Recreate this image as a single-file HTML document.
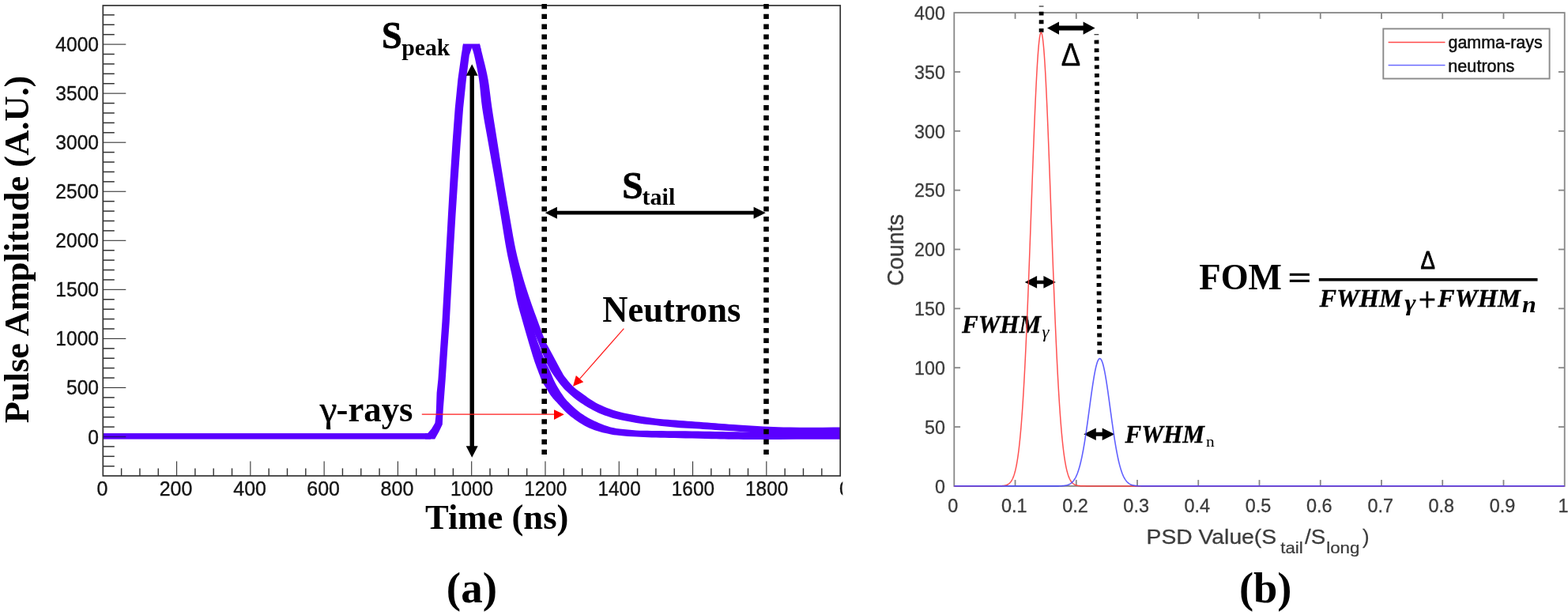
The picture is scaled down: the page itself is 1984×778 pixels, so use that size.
<!DOCTYPE html>
<html lang="en">
<head>
<meta charset="utf-8">
<title>Pulse shape discrimination figure</title>
<style>
html,body{margin:0;padding:0;background:#fff;}
body{width:1984px;height:778px;overflow:hidden;}
svg{display:block;}
</style>
</head>
<body>
<svg width="1984" height="778" viewBox="0 0 1984 778">
<rect x="0" y="0" width="1984" height="778" fill="#ffffff"/>
<g id="plotA">
<line x1="130.30" y1="589.73" x2="144.80" y2="589.73" stroke="#333" stroke-width="1.5"/>
<line x1="130.30" y1="577.32" x2="144.80" y2="577.32" stroke="#333" stroke-width="1.5"/>
<line x1="130.30" y1="564.91" x2="144.80" y2="564.91" stroke="#333" stroke-width="1.5"/>
<line x1="130.30" y1="552.50" x2="159.30" y2="552.50" stroke="#333" stroke-width="1.1"/>
<line x1="130.30" y1="540.09" x2="144.80" y2="540.09" stroke="#333" stroke-width="1.5"/>
<line x1="130.30" y1="527.68" x2="144.80" y2="527.68" stroke="#333" stroke-width="1.5"/>
<line x1="130.30" y1="515.27" x2="144.80" y2="515.27" stroke="#333" stroke-width="1.5"/>
<line x1="130.30" y1="502.86" x2="144.80" y2="502.86" stroke="#333" stroke-width="1.5"/>
<line x1="130.30" y1="490.45" x2="159.30" y2="490.45" stroke="#333" stroke-width="1.1"/>
<line x1="130.30" y1="478.04" x2="144.80" y2="478.04" stroke="#333" stroke-width="1.5"/>
<line x1="130.30" y1="465.63" x2="144.80" y2="465.63" stroke="#333" stroke-width="1.5"/>
<line x1="130.30" y1="453.22" x2="144.80" y2="453.22" stroke="#333" stroke-width="1.5"/>
<line x1="130.30" y1="440.81" x2="144.80" y2="440.81" stroke="#333" stroke-width="1.5"/>
<line x1="130.30" y1="428.40" x2="159.30" y2="428.40" stroke="#333" stroke-width="1.1"/>
<line x1="130.30" y1="415.99" x2="144.80" y2="415.99" stroke="#333" stroke-width="1.5"/>
<line x1="130.30" y1="403.58" x2="144.80" y2="403.58" stroke="#333" stroke-width="1.5"/>
<line x1="130.30" y1="391.17" x2="144.80" y2="391.17" stroke="#333" stroke-width="1.5"/>
<line x1="130.30" y1="378.76" x2="144.80" y2="378.76" stroke="#333" stroke-width="1.5"/>
<line x1="130.30" y1="366.35" x2="159.30" y2="366.35" stroke="#333" stroke-width="1.1"/>
<line x1="130.30" y1="353.94" x2="144.80" y2="353.94" stroke="#333" stroke-width="1.5"/>
<line x1="130.30" y1="341.53" x2="144.80" y2="341.53" stroke="#333" stroke-width="1.5"/>
<line x1="130.30" y1="329.12" x2="144.80" y2="329.12" stroke="#333" stroke-width="1.5"/>
<line x1="130.30" y1="316.71" x2="144.80" y2="316.71" stroke="#333" stroke-width="1.5"/>
<line x1="130.30" y1="304.30" x2="159.30" y2="304.30" stroke="#333" stroke-width="1.1"/>
<line x1="130.30" y1="291.89" x2="144.80" y2="291.89" stroke="#333" stroke-width="1.5"/>
<line x1="130.30" y1="279.48" x2="144.80" y2="279.48" stroke="#333" stroke-width="1.5"/>
<line x1="130.30" y1="267.07" x2="144.80" y2="267.07" stroke="#333" stroke-width="1.5"/>
<line x1="130.30" y1="254.66" x2="144.80" y2="254.66" stroke="#333" stroke-width="1.5"/>
<line x1="130.30" y1="242.25" x2="159.30" y2="242.25" stroke="#333" stroke-width="1.1"/>
<line x1="130.30" y1="229.84" x2="144.80" y2="229.84" stroke="#333" stroke-width="1.5"/>
<line x1="130.30" y1="217.43" x2="144.80" y2="217.43" stroke="#333" stroke-width="1.5"/>
<line x1="130.30" y1="205.02" x2="144.80" y2="205.02" stroke="#333" stroke-width="1.5"/>
<line x1="130.30" y1="192.61" x2="144.80" y2="192.61" stroke="#333" stroke-width="1.5"/>
<line x1="130.30" y1="180.20" x2="159.30" y2="180.20" stroke="#333" stroke-width="1.1"/>
<line x1="130.30" y1="167.79" x2="144.80" y2="167.79" stroke="#333" stroke-width="1.5"/>
<line x1="130.30" y1="155.38" x2="144.80" y2="155.38" stroke="#333" stroke-width="1.5"/>
<line x1="130.30" y1="142.97" x2="144.80" y2="142.97" stroke="#333" stroke-width="1.5"/>
<line x1="130.30" y1="130.56" x2="144.80" y2="130.56" stroke="#333" stroke-width="1.5"/>
<line x1="130.30" y1="118.15" x2="159.30" y2="118.15" stroke="#333" stroke-width="1.1"/>
<line x1="130.30" y1="105.74" x2="144.80" y2="105.74" stroke="#333" stroke-width="1.5"/>
<line x1="130.30" y1="93.33" x2="144.80" y2="93.33" stroke="#333" stroke-width="1.5"/>
<line x1="130.30" y1="80.92" x2="144.80" y2="80.92" stroke="#333" stroke-width="1.5"/>
<line x1="130.30" y1="68.51" x2="144.80" y2="68.51" stroke="#333" stroke-width="1.5"/>
<line x1="130.30" y1="56.10" x2="159.30" y2="56.10" stroke="#333" stroke-width="1.1"/>
<line x1="130.30" y1="43.69" x2="144.80" y2="43.69" stroke="#333" stroke-width="1.5"/>
<line x1="130.30" y1="31.28" x2="144.80" y2="31.28" stroke="#333" stroke-width="1.5"/>
<line x1="130.30" y1="18.87" x2="144.80" y2="18.87" stroke="#333" stroke-width="1.5"/>
<line x1="153.62" y1="602.00" x2="153.62" y2="592.40" stroke="#333" stroke-width="1.4"/>
<line x1="176.94" y1="602.00" x2="176.94" y2="592.40" stroke="#333" stroke-width="1.4"/>
<line x1="200.26" y1="602.00" x2="200.26" y2="592.40" stroke="#333" stroke-width="1.4"/>
<line x1="223.58" y1="602.00" x2="223.58" y2="583.60" stroke="#333" stroke-width="1.1"/>
<line x1="246.90" y1="602.00" x2="246.90" y2="592.40" stroke="#333" stroke-width="1.4"/>
<line x1="270.22" y1="602.00" x2="270.22" y2="592.40" stroke="#333" stroke-width="1.4"/>
<line x1="293.54" y1="602.00" x2="293.54" y2="592.40" stroke="#333" stroke-width="1.4"/>
<line x1="316.86" y1="602.00" x2="316.86" y2="583.60" stroke="#333" stroke-width="1.1"/>
<line x1="340.18" y1="602.00" x2="340.18" y2="592.40" stroke="#333" stroke-width="1.4"/>
<line x1="363.50" y1="602.00" x2="363.50" y2="592.40" stroke="#333" stroke-width="1.4"/>
<line x1="386.82" y1="602.00" x2="386.82" y2="592.40" stroke="#333" stroke-width="1.4"/>
<line x1="410.14" y1="602.00" x2="410.14" y2="583.60" stroke="#333" stroke-width="1.1"/>
<line x1="433.46" y1="602.00" x2="433.46" y2="592.40" stroke="#333" stroke-width="1.4"/>
<line x1="456.78" y1="602.00" x2="456.78" y2="592.40" stroke="#333" stroke-width="1.4"/>
<line x1="480.10" y1="602.00" x2="480.10" y2="592.40" stroke="#333" stroke-width="1.4"/>
<line x1="503.42" y1="602.00" x2="503.42" y2="583.60" stroke="#333" stroke-width="1.1"/>
<line x1="526.74" y1="602.00" x2="526.74" y2="592.40" stroke="#333" stroke-width="1.4"/>
<line x1="550.06" y1="602.00" x2="550.06" y2="592.40" stroke="#333" stroke-width="1.4"/>
<line x1="573.38" y1="602.00" x2="573.38" y2="592.40" stroke="#333" stroke-width="1.4"/>
<line x1="596.70" y1="602.00" x2="596.70" y2="583.60" stroke="#333" stroke-width="1.1"/>
<line x1="620.02" y1="602.00" x2="620.02" y2="592.40" stroke="#333" stroke-width="1.4"/>
<line x1="643.34" y1="602.00" x2="643.34" y2="592.40" stroke="#333" stroke-width="1.4"/>
<line x1="666.66" y1="602.00" x2="666.66" y2="592.40" stroke="#333" stroke-width="1.4"/>
<line x1="689.98" y1="602.00" x2="689.98" y2="583.60" stroke="#333" stroke-width="1.1"/>
<line x1="713.30" y1="602.00" x2="713.30" y2="592.40" stroke="#333" stroke-width="1.4"/>
<line x1="736.62" y1="602.00" x2="736.62" y2="592.40" stroke="#333" stroke-width="1.4"/>
<line x1="759.94" y1="602.00" x2="759.94" y2="592.40" stroke="#333" stroke-width="1.4"/>
<line x1="783.26" y1="602.00" x2="783.26" y2="583.60" stroke="#333" stroke-width="1.1"/>
<line x1="806.58" y1="602.00" x2="806.58" y2="592.40" stroke="#333" stroke-width="1.4"/>
<line x1="829.90" y1="602.00" x2="829.90" y2="592.40" stroke="#333" stroke-width="1.4"/>
<line x1="853.22" y1="602.00" x2="853.22" y2="592.40" stroke="#333" stroke-width="1.4"/>
<line x1="876.54" y1="602.00" x2="876.54" y2="583.60" stroke="#333" stroke-width="1.1"/>
<line x1="899.86" y1="602.00" x2="899.86" y2="592.40" stroke="#333" stroke-width="1.4"/>
<line x1="923.18" y1="602.00" x2="923.18" y2="592.40" stroke="#333" stroke-width="1.4"/>
<line x1="946.50" y1="602.00" x2="946.50" y2="592.40" stroke="#333" stroke-width="1.4"/>
<line x1="969.82" y1="602.00" x2="969.82" y2="583.60" stroke="#333" stroke-width="1.1"/>
<line x1="993.14" y1="602.00" x2="993.14" y2="592.40" stroke="#333" stroke-width="1.4"/>
<line x1="1016.46" y1="602.00" x2="1016.46" y2="592.40" stroke="#333" stroke-width="1.4"/>
<line x1="1039.78" y1="602.00" x2="1039.78" y2="592.40" stroke="#333" stroke-width="1.4"/>
<rect x="130.30" y="548.1" width="414.70" height="7.5" fill="#5a00ff"/>
<polygon points="538.00,548.10 541.30,548.10 546.00,542.50 550.40,535.00 551.40,526.00 551.90,517.50 552.60,497.00 554.40,480.00 556.90,443.00 559.40,407.00 561.90,362.00 564.40,317.00 566.90,272.00 569.50,227.00 572.40,182.00 575.70,137.00 579.40,100.00 583.60,70.00 586.00,55.60 597.00,60.60 593.80,70.00 590.00,100.00 586.10,137.00 582.70,182.00 579.50,227.00 576.50,272.00 573.80,317.00 571.30,362.00 568.80,407.00 566.20,443.00 563.70,480.00 562.40,497.00 560.80,517.50 560.30,526.00 559.80,537.00 555.50,546.00 550.20,555.60 538.00,555.60" fill="#5a00ff"/>
<polygon points="586.0,55.6 606.9,55.6 609,64 597,60.6 585,64" fill="#5a00ff"/>
<polygon points="597.00,60.60 597.36,61.55 597.84,62.69 598.44,64.31 599.16,66.65 600.00,70.00 601.04,74.57 602.27,80.18 603.59,86.51 604.87,93.22 606.00,100.00 606.90,106.82 607.64,113.91 608.35,121.29 609.16,128.98 610.20,137.00 611.53,145.49 613.05,154.42 614.69,163.62 616.37,172.87 618.00,182.00 619.60,191.00 621.21,200.00 622.83,209.00 624.43,218.00 626.00,227.00 627.53,236.00 629.04,245.00 630.52,254.00 632.01,263.00 633.50,272.00 635.00,281.16 636.50,290.48 638.00,299.72 639.50,308.64 641.00,317.00 642.53,324.75 644.10,332.06 645.64,338.98 647.13,345.61 648.50,352.00 649.71,358.10 650.78,363.85 651.80,369.35 652.85,374.70 654.00,380.00 655.27,385.19 656.61,390.22 657.99,395.14 659.39,400.05 660.80,405.00 662.21,410.00 663.63,415.00 665.07,420.00 666.53,425.00 668.00,430.00 669.53,435.16 671.12,440.48 672.70,445.72 674.21,450.64 675.60,455.00 676.83,458.68 677.94,461.84 678.97,464.66 679.98,467.32 681.00,470.00 682.02,472.72 683.02,475.36 684.00,477.89 684.99,480.28 686.00,482.50 687.01,484.48 688.01,486.23 689.02,487.87 690.08,489.52 691.20,491.30 692.40,493.26 693.66,495.33 694.97,497.42 696.29,499.44 697.60,501.30 698.80,502.86 699.92,504.18 701.09,505.47 702.47,506.94 704.20,508.80 706.39,511.20 708.95,514.01 711.71,516.99 714.51,519.90 717.20,522.50 719.78,524.78 722.35,526.89 724.91,528.86 727.46,530.72 730.00,532.50 732.52,534.20 735.02,535.80 737.51,537.30 740.00,538.70 742.50,540.00 745.00,541.19 747.50,542.26 750.00,543.24 752.50,544.15 755.00,545.00 757.50,545.78 760.00,546.49 762.50,547.13 765.00,547.73 767.50,548.30 769.80,548.83 771.90,549.31 774.10,549.75 776.70,550.18 780.00,550.60 784.20,551.04 789.10,551.47 794.40,551.89 799.80,552.27 805.00,552.60 809.92,552.87 814.76,553.09 819.64,553.28 824.68,553.44 830.00,553.60 835.52,553.74 841.16,553.85 847.04,553.95 853.28,554.06 860.00,554.20 867.55,554.38 875.86,554.59 884.38,554.81 892.61,555.02 900.00,555.20 906.16,555.35 911.44,555.49 916.44,555.62 921.76,555.72 928.00,555.80 934.52,555.86 940.91,555.89 948.15,555.91 957.19,555.91 969.00,555.90 985.94,555.88 1007.37,555.83 1029.75,555.78 1049.54,555.73 1063.20,555.70 1063.20,546.40 1049.03,546.44 1028.48,546.49 1005.28,546.55 983.21,546.59 966.00,546.60 954.37,546.57 945.82,546.52 939.28,546.45 933.69,546.37 928.00,546.30 922.67,546.23 918.42,546.16 914.52,546.08 910.29,545.99 905.00,545.90 898.43,545.79 891.04,545.66 883.20,545.53 875.23,545.40 867.50,545.30 859.80,545.23 851.90,545.17 844.10,545.13 836.70,545.07 830.00,545.00 824.20,544.93 819.10,544.87 814.40,544.79 809.80,544.65 805.00,544.40 799.80,544.03 794.40,543.57 789.10,543.03 784.20,542.47 780.00,541.90 776.70,541.35 774.10,540.79 771.90,540.21 769.80,539.55 767.50,538.80 765.00,537.94 762.50,537.00 760.00,535.98 757.50,534.91 755.00,533.80 752.50,532.66 750.00,531.49 747.50,530.26 745.00,528.93 742.50,527.50 740.00,525.96 737.50,524.35 735.00,522.63 732.50,520.78 730.00,518.80 727.40,516.56 724.70,514.09 722.05,511.54 719.60,509.09 717.50,506.90 715.86,505.07 714.57,503.48 713.48,501.99 712.45,500.48 711.30,498.80 710.02,496.90 708.71,494.88 707.40,492.80 706.15,490.75 705.00,488.80 703.96,486.98 703.02,485.25 702.13,483.55 701.27,481.82 700.40,480.00 699.55,478.08 698.72,476.09 697.91,474.06 697.08,472.02 696.20,470.00 695.26,468.00 694.26,466.00 693.25,464.00 692.25,462.00 691.30,460.00 690.39,458.00 689.51,456.00 688.66,454.00 687.82,452.00 687.00,450.00 686.21,448.00 685.44,446.00 684.69,444.00 683.95,442.00 683.20,440.00 682.52,438.24 681.91,436.72 681.28,435.08 680.51,432.96 679.50,430.00 678.19,425.96 676.64,421.08 674.96,415.72 673.25,410.24 671.60,405.00 670.01,400.05 668.41,395.14 666.81,390.22 665.24,385.19 663.70,380.00 662.23,374.70 660.81,369.35 659.40,363.85 657.96,358.10 656.45,352.00 654.84,345.61 653.17,338.98 651.46,332.06 649.76,324.75 648.10,317.00 646.49,308.64 644.91,299.72 643.35,290.48 641.80,281.16 640.25,272.00 638.71,263.00 637.19,254.00 635.68,245.00 634.17,236.00 632.65,227.00 631.13,218.00 629.60,209.00 628.08,200.00 626.56,191.00 625.05,182.00 623.51,172.87 621.92,163.62 620.37,154.42 618.91,145.49 617.60,137.00 616.52,128.98 615.62,121.29 614.81,113.91 613.95,106.82 612.95,100.00 611.73,93.26 610.35,86.63 608.94,80.36 607.62,74.73 606.50,70.00 605.58,66.27 604.78,63.37 604.10,61.13 603.56,59.43 603.15,58.10" fill="#5a00ff"/>
<polygon points="600.75,58.10 601.16,59.43 601.70,61.13 602.38,63.37 603.18,66.27 604.10,70.00 605.22,74.73 606.54,80.36 607.95,86.63 609.33,93.26 610.55,100.00 611.55,106.82 612.41,113.91 613.22,121.29 614.12,128.98 615.20,137.00 616.51,145.49 617.97,154.42 619.52,163.62 621.11,172.87 622.65,182.00 624.16,191.00 625.68,200.00 627.20,209.00 628.73,218.00 630.25,227.00 631.77,236.00 633.28,245.00 634.79,254.00 636.31,263.00 637.85,272.00 639.40,281.16 640.95,290.48 642.51,299.72 644.09,308.64 645.70,317.00 647.36,324.75 649.06,332.06 650.77,338.98 652.44,345.61 654.05,352.00 655.56,358.10 657.00,363.85 658.41,369.35 659.83,374.70 661.30,380.00 662.79,385.19 664.28,390.22 665.81,395.14 667.43,400.05 669.20,405.00 671.27,410.24 673.60,415.72 675.98,421.08 678.15,425.96 679.90,430.00 681.12,432.96 681.95,435.08 682.57,436.72 683.14,438.24 683.80,440.00 684.56,442.00 685.30,444.00 686.04,446.00 686.80,448.00 687.60,450.00 688.43,452.00 689.27,454.00 690.15,456.00 691.05,458.00 692.00,460.00 692.98,462.00 693.98,464.00 695.02,466.00 696.12,468.00 697.30,470.00 698.58,472.02 699.95,474.06 701.37,476.09 702.80,478.08 704.20,480.00 705.57,481.87 706.94,483.70 708.31,485.48 709.66,487.19 711.00,488.80 712.22,490.23 713.33,491.48 714.48,492.70 715.82,494.02 717.50,495.60 719.62,497.53 722.07,499.72 724.71,502.02 727.40,504.26 730.00,506.30 732.50,508.11 735.00,509.78 737.50,511.37 740.00,512.90 742.50,514.40 745.00,515.89 747.50,517.34 750.00,518.73 752.50,520.06 755.00,521.30 757.50,522.44 760.00,523.50 762.50,524.48 765.00,525.41 767.50,526.30 769.80,527.10 771.90,527.81 774.10,528.49 776.70,529.20 780.00,530.00 784.20,530.95 789.10,532.00 794.40,533.07 799.80,534.10 805.00,535.00 810.00,535.75 815.00,536.40 820.00,536.98 825.00,537.54 830.00,538.10 835.00,538.68 840.00,539.27 845.00,539.83 850.00,540.34 855.00,540.80 860.00,541.18 865.00,541.48 870.00,541.75 875.00,542.01 880.00,542.30 885.03,542.62 890.10,542.94 895.14,543.27 900.13,543.59 905.00,543.90 909.49,544.18 913.62,544.43 917.82,544.68 922.47,544.97 928.00,545.30 933.69,545.72 939.28,546.22 945.82,546.73 954.37,547.21 966.00,547.60 983.21,547.90 1005.28,548.14 1028.48,548.33 1049.03,548.48 1063.20,548.60 1063.20,540.60 1054.14,540.62 1041.07,540.66 1026.21,540.69 1011.78,540.68 1000.00,540.60 991.40,540.45 984.49,540.26 978.49,540.02 972.59,539.73 966.00,539.40 958.42,539.00 950.37,538.54 942.31,538.04 934.70,537.55 928.00,537.10 922.47,536.71 917.82,536.35 913.62,536.00 909.49,535.66 905.00,535.30 900.13,534.92 895.14,534.54 890.10,534.16 885.03,533.78 880.00,533.40 875.00,533.04 870.00,532.69 865.00,532.34 860.00,531.98 855.00,531.60 850.00,531.21 845.00,530.83 840.00,530.41 835.00,529.95 830.00,529.40 825.00,528.77 820.00,528.08 815.00,527.33 810.00,526.50 805.00,525.60 799.90,524.62 794.70,523.55 789.55,522.42 784.60,521.23 780.00,520.00 775.76,518.70 771.77,517.33 768.03,515.92 764.54,514.49 761.30,513.10 758.40,511.77 755.85,510.47 753.50,509.16 751.20,507.79 748.80,506.30 746.28,504.67 743.74,502.92 741.21,501.11 738.72,499.29 736.30,497.50 733.94,495.80 731.63,494.16 729.37,492.50 727.16,490.74 725.00,488.80 722.83,486.56 720.64,484.07 718.53,481.52 716.62,479.10 715.00,477.00 713.82,475.42 713.01,474.24 712.36,473.15 711.63,471.84 710.60,470.00 709.20,467.48 707.57,464.48 705.84,461.24 704.11,458.00 702.50,455.00 701.02,452.26 699.58,449.61 698.18,447.03 696.82,444.50 695.50,442.00 694.28,439.74 693.15,437.75 692.03,435.69 690.82,433.22 689.40,430.00 687.72,425.83 685.86,420.94 683.89,415.62 681.91,410.21 680.00,405.00 678.17,400.05 676.37,395.14 674.58,390.22 672.79,385.19 671.00,380.00 669.20,374.70 667.41,369.35 665.61,363.85 663.81,358.10 662.00,352.00 660.16,345.61 658.29,338.98 656.42,332.06 654.58,324.75 652.80,317.00 651.09,308.64 649.42,299.72 647.80,290.48 646.19,281.16 644.60,272.00 643.02,263.00 641.46,254.00 639.92,245.00 638.40,236.00 636.90,227.00 635.43,218.00 633.98,209.00 632.55,200.00 631.13,191.00 629.70,182.00 628.24,172.87 626.76,163.62 625.29,154.42 623.89,145.49 622.60,137.00 621.48,128.98 620.50,121.29 619.57,113.91 618.60,106.82 617.50,100.00 616.18,93.30 614.72,86.75 613.22,80.54 611.80,74.89 610.60,70.00 609.60,65.89 608.71,62.43 607.96,59.57 607.35,57.31 606.90,55.60" fill="#5a00ff"/>
<rect x="130.30" y="6.95" width="932.90" height="595.05" fill="none" stroke="#333333" stroke-width="1.7"/>
<line x1="130.30" y1="552.50" x2="159.30" y2="552.50" stroke="#2a0a80" stroke-width="1.4"/>
<line x1="688.70" y1="5.0" x2="688.70" y2="576" stroke="#000" stroke-width="6.6" stroke-dasharray="6.3 6.51"/>
<line x1="969.50" y1="5.0" x2="969.50" y2="576" stroke="#000" stroke-width="6.6" stroke-dasharray="6.3 6.51"/>
<path d="M597.20,81.20 L604.70,95.70 L599.90,95.70 L599.90,564.30 L604.70,564.30 L597.20,578.80 L589.70,564.30 L594.50,564.30 L594.50,95.70 L589.70,95.70 Z" fill="#000"/>
<path d="M689.70,269.20 L704.90,261.70 L704.90,266.80 L953.60,266.80 L953.60,261.70 L968.80,269.20 L953.60,276.70 L953.60,271.60 L704.90,271.60 L704.90,276.70 Z" fill="#000"/>
<line x1="533.8" y1="524.1" x2="703" y2="524.1" stroke="#ff1a1a" stroke-width="1.2"/>
<polygon points="713.8,524.3 701,518.2 701,531" fill="#ff0000"/>
<line x1="789.40" y1="415.60" x2="733.59" y2="479.04" stroke="#ff1a1a" stroke-width="1.2"/>
<polygon points="725.00,488.80 728.86,474.88 738.32,483.20" fill="#ff0000"/>
<text transform="translate(111.37,561.50) scale(1.0000,1.0600)" font-family="'Liberation Sans', Arial, Helvetica, sans-serif" font-size="24.60" stroke="#141414" stroke-width="0.35" fill="#141414">0</text>
<text transform="translate(84.00,499.45) scale(1.0000,1.0600)" font-family="'Liberation Sans', Arial, Helvetica, sans-serif" font-size="24.60" stroke="#141414" stroke-width="0.35" fill="#141414">500</text>
<text transform="translate(70.35,437.40) scale(1.0000,1.0600)" font-family="'Liberation Sans', Arial, Helvetica, sans-serif" font-size="24.60" stroke="#141414" stroke-width="0.35" fill="#141414">1000</text>
<text transform="translate(70.35,375.35) scale(1.0000,1.0600)" font-family="'Liberation Sans', Arial, Helvetica, sans-serif" font-size="24.60" stroke="#141414" stroke-width="0.35" fill="#141414">1500</text>
<text transform="translate(70.35,313.30) scale(1.0000,1.0600)" font-family="'Liberation Sans', Arial, Helvetica, sans-serif" font-size="24.60" stroke="#141414" stroke-width="0.35" fill="#141414">2000</text>
<text transform="translate(70.35,251.25) scale(1.0000,1.0600)" font-family="'Liberation Sans', Arial, Helvetica, sans-serif" font-size="24.60" stroke="#141414" stroke-width="0.35" fill="#141414">2500</text>
<text transform="translate(70.35,189.20) scale(1.0000,1.0600)" font-family="'Liberation Sans', Arial, Helvetica, sans-serif" font-size="24.60" stroke="#141414" stroke-width="0.35" fill="#141414">3000</text>
<text transform="translate(70.35,127.15) scale(1.0000,1.0600)" font-family="'Liberation Sans', Arial, Helvetica, sans-serif" font-size="24.60" stroke="#141414" stroke-width="0.35" fill="#141414">3500</text>
<text transform="translate(70.35,65.10) scale(1.0000,1.0600)" font-family="'Liberation Sans', Arial, Helvetica, sans-serif" font-size="24.60" stroke="#141414" stroke-width="0.35" fill="#141414">4000</text>
<text transform="translate(122.43,626.50) scale(1.0000,1.0600)" font-family="'Liberation Sans', Arial, Helvetica, sans-serif" font-size="25.00" stroke="#141414" stroke-width="0.35" fill="#141414">0</text>
<text transform="translate(201.68,626.50) scale(1.0000,1.0600)" font-family="'Liberation Sans', Arial, Helvetica, sans-serif" font-size="25.00" stroke="#141414" stroke-width="0.35" fill="#141414">200</text>
<text transform="translate(295.30,626.50) scale(1.0000,1.0600)" font-family="'Liberation Sans', Arial, Helvetica, sans-serif" font-size="25.00" stroke="#141414" stroke-width="0.35" fill="#141414">400</text>
<text transform="translate(388.24,626.50) scale(1.0000,1.0600)" font-family="'Liberation Sans', Arial, Helvetica, sans-serif" font-size="25.00" stroke="#141414" stroke-width="0.35" fill="#141414">600</text>
<text transform="translate(481.61,626.50) scale(1.0000,1.0600)" font-family="'Liberation Sans', Arial, Helvetica, sans-serif" font-size="25.00" stroke="#141414" stroke-width="0.35" fill="#141414">800</text>
<text transform="translate(569.96,626.50) scale(0.9750,1.0600)" font-family="'Liberation Sans', Arial, Helvetica, sans-serif" font-size="25.00" stroke="#141414" stroke-width="0.35" fill="#141414">1000</text>
<text transform="translate(663.24,626.50) scale(0.9750,1.0600)" font-family="'Liberation Sans', Arial, Helvetica, sans-serif" font-size="25.00" stroke="#141414" stroke-width="0.35" fill="#141414">1200</text>
<text transform="translate(756.52,626.50) scale(0.9750,1.0600)" font-family="'Liberation Sans', Arial, Helvetica, sans-serif" font-size="25.00" stroke="#141414" stroke-width="0.35" fill="#141414">1400</text>
<text transform="translate(849.80,626.50) scale(0.9750,1.0600)" font-family="'Liberation Sans', Arial, Helvetica, sans-serif" font-size="25.00" stroke="#141414" stroke-width="0.35" fill="#141414">1600</text>
<text transform="translate(943.08,626.50) scale(0.9750,1.0600)" font-family="'Liberation Sans', Arial, Helvetica, sans-serif" font-size="25.00" stroke="#141414" stroke-width="0.35" fill="#141414">1800</text>
<clipPath id="cpFrag"><rect x="1060" y="600" width="6.3" height="40"/></clipPath>
<g clip-path="url(#cpFrag)"><text transform="translate(1062.00,626.50) scale(1.0000,1.0600)" font-family="'Liberation Sans', Arial, Helvetica, sans-serif" font-size="25.00" stroke="#141414" stroke-width="0.35" fill="#141414">0</text></g>
<text transform="translate(35.60,535.18) rotate(-90) scale(0.9881,1.0000)" font-family="'Liberation Serif', 'Times New Roman', Times, serif" font-size="45.00" font-weight="bold" fill="#000">Pulse Amplitude (A.U.)</text>
<text transform="translate(537.93,668.80) scale(1.0077,1.0000)" font-family="'Liberation Serif', 'Times New Roman', Times, serif" font-size="44.30" font-weight="bold" fill="#000">Time (ns)</text>
<text transform="translate(564.86,761.70) scale(1.0090,1.0000)" font-family="'Liberation Serif', 'Times New Roman', Times, serif" font-size="54.60" font-weight="bold" fill="#000">(a)</text>
<text transform="translate(482.88,61.40) scale(0.9399,1.0000)" font-family="'Liberation Serif', 'Times New Roman', Times, serif" font-size="49.00" font-weight="bold" stroke="#000" stroke-width="0.8" fill="#000">S</text>
<text transform="translate(508.13,70.00) scale(1.0107,1.0000)" font-family="'Liberation Serif', 'Times New Roman', Times, serif" font-size="29.50" font-weight="bold" fill="#000">peak</text>
<text transform="translate(787.21,250.80) scale(0.9664,1.0000)" font-family="'Liberation Serif', 'Times New Roman', Times, serif" font-size="49.00" font-weight="bold" stroke="#000" stroke-width="0.8" fill="#000">S</text>
<text transform="translate(812.55,258.75) scale(1.0370,1.0000)" font-family="'Liberation Serif', 'Times New Roman', Times, serif" font-size="29.00" font-weight="bold" fill="#000">tail</text>
<text transform="translate(762.21,406.80) scale(0.9695,1.0000)" font-family="'Liberation Serif', 'Times New Roman', Times, serif" font-size="46.00" font-weight="bold" fill="#000">Neutrons</text>
<text transform="translate(404.72,532.80) scale(1.0651,1.0000)" font-family="'Liberation Serif', 'Times New Roman', Times, serif" font-size="46.00" stroke="#000" stroke-width="0.5" fill="#000">γ</text>
<text transform="translate(425.62,532.80) scale(0.9728,1.0000)" font-family="'Liberation Serif', 'Times New Roman', Times, serif" font-size="46.00" font-weight="bold" fill="#000">-rays</text>
</g>
<g id="plotB">
<rect x="1207.30" y="16.10" width="772.40" height="598.80" fill="none" stroke="#868686" stroke-width="1.8"/>
<line x1="1284.54" y1="614.90" x2="1284.54" y2="607.10" stroke="#868686" stroke-width="1.8"/>
<line x1="1284.54" y1="16.10" x2="1284.54" y2="23.90" stroke="#868686" stroke-width="1.8"/>
<line x1="1361.78" y1="614.90" x2="1361.78" y2="607.10" stroke="#868686" stroke-width="1.8"/>
<line x1="1361.78" y1="16.10" x2="1361.78" y2="23.90" stroke="#868686" stroke-width="1.8"/>
<line x1="1439.02" y1="614.90" x2="1439.02" y2="607.10" stroke="#868686" stroke-width="1.8"/>
<line x1="1439.02" y1="16.10" x2="1439.02" y2="23.90" stroke="#868686" stroke-width="1.8"/>
<line x1="1516.26" y1="614.90" x2="1516.26" y2="607.10" stroke="#868686" stroke-width="1.8"/>
<line x1="1516.26" y1="16.10" x2="1516.26" y2="23.90" stroke="#868686" stroke-width="1.8"/>
<line x1="1593.50" y1="614.90" x2="1593.50" y2="607.10" stroke="#868686" stroke-width="1.8"/>
<line x1="1593.50" y1="16.10" x2="1593.50" y2="23.90" stroke="#868686" stroke-width="1.8"/>
<line x1="1670.74" y1="614.90" x2="1670.74" y2="607.10" stroke="#868686" stroke-width="1.8"/>
<line x1="1670.74" y1="16.10" x2="1670.74" y2="23.90" stroke="#868686" stroke-width="1.8"/>
<line x1="1747.98" y1="614.90" x2="1747.98" y2="607.10" stroke="#868686" stroke-width="1.8"/>
<line x1="1747.98" y1="16.10" x2="1747.98" y2="23.90" stroke="#868686" stroke-width="1.8"/>
<line x1="1825.22" y1="614.90" x2="1825.22" y2="607.10" stroke="#868686" stroke-width="1.8"/>
<line x1="1825.22" y1="16.10" x2="1825.22" y2="23.90" stroke="#868686" stroke-width="1.8"/>
<line x1="1902.46" y1="614.90" x2="1902.46" y2="607.10" stroke="#868686" stroke-width="1.8"/>
<line x1="1902.46" y1="16.10" x2="1902.46" y2="23.90" stroke="#868686" stroke-width="1.8"/>
<line x1="1207.30" y1="540.05" x2="1215.10" y2="540.05" stroke="#868686" stroke-width="1.8"/>
<line x1="1979.70" y1="540.05" x2="1971.90" y2="540.05" stroke="#868686" stroke-width="1.8"/>
<line x1="1207.30" y1="465.20" x2="1215.10" y2="465.20" stroke="#868686" stroke-width="1.8"/>
<line x1="1979.70" y1="465.20" x2="1971.90" y2="465.20" stroke="#868686" stroke-width="1.8"/>
<line x1="1207.30" y1="390.35" x2="1215.10" y2="390.35" stroke="#868686" stroke-width="1.8"/>
<line x1="1979.70" y1="390.35" x2="1971.90" y2="390.35" stroke="#868686" stroke-width="1.8"/>
<line x1="1207.30" y1="315.50" x2="1215.10" y2="315.50" stroke="#868686" stroke-width="1.8"/>
<line x1="1979.70" y1="315.50" x2="1971.90" y2="315.50" stroke="#868686" stroke-width="1.8"/>
<line x1="1207.30" y1="240.65" x2="1215.10" y2="240.65" stroke="#868686" stroke-width="1.8"/>
<line x1="1979.70" y1="240.65" x2="1971.90" y2="240.65" stroke="#868686" stroke-width="1.8"/>
<line x1="1207.30" y1="165.80" x2="1215.10" y2="165.80" stroke="#868686" stroke-width="1.8"/>
<line x1="1979.70" y1="165.80" x2="1971.90" y2="165.80" stroke="#868686" stroke-width="1.8"/>
<line x1="1207.30" y1="90.95" x2="1215.10" y2="90.95" stroke="#868686" stroke-width="1.8"/>
<line x1="1979.70" y1="90.95" x2="1971.90" y2="90.95" stroke="#868686" stroke-width="1.8"/>
<line x1="1317.6" y1="7.6" x2="1317.6" y2="41" stroke="#000" stroke-width="5.8" stroke-dasharray="0.9 6.2 4.9 5.7 4.9 5.7 4.9 5.7"/>
<line x1="1387.4" y1="43.3" x2="1391.4" y2="452" stroke="#000" stroke-width="5.8" stroke-dasharray="0.9 6.4 4.9 5.7 4.9 5.7 4.9 5.7 4.9 5.7 4.9 5.7 4.9 5.7 4.9 5.7 4.9 5.7 4.9 5.7 4.9 5.7 4.9 5.7 4.9 5.7 4.9 5.7 4.9 5.7 4.9 5.7 4.9 5.7 4.9 5.7 4.9 5.7 4.9 5.7 4.9 5.7 4.9 5.7 4.9 5.7 4.9 5.7 4.9 5.7 4.9 5.7 4.9 5.7 4.9 5.7 4.9 5.7 4.9 5.7 4.9 5.7 4.9 5.7 4.9 5.7 4.9 5.7 4.9 5.7 4.9 5.7 4.9 5.7 4.9 5.7 4.9 5.7 4.9 5.7"/>
<path d="M1325.00,35.60 L1340.00,27.50 L1340.00,32.60 L1370.60,32.60 L1370.60,27.50 L1385.60,35.60 L1370.60,43.70 L1370.60,38.60 L1340.00,38.60 L1340.00,43.70 Z" fill="#000"/>
<path d="M1296.70,356.90 L1312.10,349.10 L1312.10,354.65 L1320.40,354.65 L1320.40,349.10 L1335.80,356.90 L1320.40,364.70 L1320.40,359.15 L1312.10,359.15 L1312.10,364.70 Z" fill="#000"/>
<path d="M1371.20,549.20 L1386.80,541.50 L1386.80,546.75 L1394.70,546.75 L1394.70,541.50 L1410.30,549.20 L1394.70,556.90 L1394.70,551.65 L1386.80,551.65 L1386.80,556.90 Z" fill="#000"/>
<rect x="1750.3" y="36.4" width="210.3" height="63.1" fill="#fff" stroke="#8a8a8a" stroke-width="1.9"/>
<line x1="1756.6" y1="53.5" x2="1828.5" y2="53.5" stroke="#ff4a4a" stroke-width="1.6"/>
<line x1="1756.6" y1="82.5" x2="1828.5" y2="82.5" stroke="#6a6aff" stroke-width="1.6"/>
<text transform="translate(1182.93,623.70) scale(0.9720,1.0000)" font-family="'Liberation Sans', Arial, Helvetica, sans-serif" font-size="24.00" stroke="#3c3c3c" stroke-width="0.3" fill="#3c3c3c">0</text>
<text transform="translate(1169.98,548.85) scale(0.9720,1.0000)" font-family="'Liberation Sans', Arial, Helvetica, sans-serif" font-size="24.00" stroke="#3c3c3c" stroke-width="0.3" fill="#3c3c3c">50</text>
<text transform="translate(1156.98,474.00) scale(0.9720,1.0000)" font-family="'Liberation Sans', Arial, Helvetica, sans-serif" font-size="24.00" stroke="#3c3c3c" stroke-width="0.3" fill="#3c3c3c">100</text>
<text transform="translate(1156.98,399.15) scale(0.9720,1.0000)" font-family="'Liberation Sans', Arial, Helvetica, sans-serif" font-size="24.00" stroke="#3c3c3c" stroke-width="0.3" fill="#3c3c3c">150</text>
<text transform="translate(1156.98,324.30) scale(0.9720,1.0000)" font-family="'Liberation Sans', Arial, Helvetica, sans-serif" font-size="24.00" stroke="#3c3c3c" stroke-width="0.3" fill="#3c3c3c">200</text>
<text transform="translate(1156.98,249.45) scale(0.9720,1.0000)" font-family="'Liberation Sans', Arial, Helvetica, sans-serif" font-size="24.00" stroke="#3c3c3c" stroke-width="0.3" fill="#3c3c3c">250</text>
<text transform="translate(1156.98,174.60) scale(0.9720,1.0000)" font-family="'Liberation Sans', Arial, Helvetica, sans-serif" font-size="24.00" stroke="#3c3c3c" stroke-width="0.3" fill="#3c3c3c">300</text>
<text transform="translate(1156.98,99.75) scale(0.9720,1.0000)" font-family="'Liberation Sans', Arial, Helvetica, sans-serif" font-size="24.00" stroke="#3c3c3c" stroke-width="0.3" fill="#3c3c3c">350</text>
<text transform="translate(1156.98,24.90) scale(0.9720,1.0000)" font-family="'Liberation Sans', Arial, Helvetica, sans-serif" font-size="24.00" stroke="#3c3c3c" stroke-width="0.3" fill="#3c3c3c">400</text>
<text transform="translate(1199.37,648.00) scale(0.9850,1.0000)" font-family="'Liberation Sans', Arial, Helvetica, sans-serif" font-size="23.80" stroke="#3c3c3c" stroke-width="0.3" fill="#3c3c3c">0</text>
<text transform="translate(1266.94,648.00) scale(0.9850,1.0000)" font-family="'Liberation Sans', Arial, Helvetica, sans-serif" font-size="23.80" stroke="#3c3c3c" stroke-width="0.3" fill="#3c3c3c">0.1</text>
<text transform="translate(1344.20,648.00) scale(0.9850,1.0000)" font-family="'Liberation Sans', Arial, Helvetica, sans-serif" font-size="23.80" stroke="#3c3c3c" stroke-width="0.3" fill="#3c3c3c">0.2</text>
<text transform="translate(1421.36,648.00) scale(0.9850,1.0000)" font-family="'Liberation Sans', Arial, Helvetica, sans-serif" font-size="23.80" stroke="#3c3c3c" stroke-width="0.3" fill="#3c3c3c">0.3</text>
<text transform="translate(1498.42,648.00) scale(0.9850,1.0000)" font-family="'Liberation Sans', Arial, Helvetica, sans-serif" font-size="23.80" stroke="#3c3c3c" stroke-width="0.3" fill="#3c3c3c">0.4</text>
<text transform="translate(1575.81,648.00) scale(0.9850,1.0000)" font-family="'Liberation Sans', Arial, Helvetica, sans-serif" font-size="23.80" stroke="#3c3c3c" stroke-width="0.3" fill="#3c3c3c">0.5</text>
<text transform="translate(1653.08,648.00) scale(0.9850,1.0000)" font-family="'Liberation Sans', Arial, Helvetica, sans-serif" font-size="23.80" stroke="#3c3c3c" stroke-width="0.3" fill="#3c3c3c">0.6</text>
<text transform="translate(1730.40,648.00) scale(0.9850,1.0000)" font-family="'Liberation Sans', Arial, Helvetica, sans-serif" font-size="23.80" stroke="#3c3c3c" stroke-width="0.3" fill="#3c3c3c">0.7</text>
<text transform="translate(1807.56,648.00) scale(0.9850,1.0000)" font-family="'Liberation Sans', Arial, Helvetica, sans-serif" font-size="23.80" stroke="#3c3c3c" stroke-width="0.3" fill="#3c3c3c">0.8</text>
<text transform="translate(1884.83,648.00) scale(0.9850,1.0000)" font-family="'Liberation Sans', Arial, Helvetica, sans-serif" font-size="23.80" stroke="#3c3c3c" stroke-width="0.3" fill="#3c3c3c">0.9</text>
<text transform="translate(1971.47,648.00) scale(0.9850,1.0000)" font-family="'Liberation Sans', Arial, Helvetica, sans-serif" font-size="23.80" stroke="#3c3c3c" stroke-width="0.3" fill="#3c3c3c">1</text>
<text transform="translate(1142.80,361.83) rotate(-90) scale(0.9889,1.0000)" font-family="'Liberation Sans', Arial, Helvetica, sans-serif" font-size="29.00" stroke="#3c3c3c" stroke-width="0.3" fill="#3c3c3c">Counts</text>
<text transform="translate(1450.57,687.60) scale(1.0637,1.0000)" font-family="'Liberation Sans', Arial, Helvetica, sans-serif" font-size="26.60" stroke="#3c3c3c" stroke-width="0.3" fill="#3c3c3c">PSD Value(S</text>
<text transform="translate(1620.37,700.10) scale(1.1314,1.0000)" font-family="'Liberation Sans', Arial, Helvetica, sans-serif" font-size="19.60" stroke="#3c3c3c" stroke-width="0.25" fill="#3c3c3c">tail</text>
<text transform="translate(1651.00,687.60) scale(1.0401,1.0000)" font-family="'Liberation Sans', Arial, Helvetica, sans-serif" font-size="26.60" stroke="#3c3c3c" stroke-width="0.3" fill="#3c3c3c">/S</text>
<text transform="translate(1678.19,700.10) scale(1.1393,1.0000)" font-family="'Liberation Sans', Arial, Helvetica, sans-serif" font-size="19.60" stroke="#3c3c3c" stroke-width="0.25" fill="#3c3c3c">long</text>
<text transform="translate(1724.11,687.60) scale(0.9647,1.0000)" font-family="'Liberation Sans', Arial, Helvetica, sans-serif" font-size="26.60" stroke="#3c3c3c" stroke-width="0.3" fill="#3c3c3c">)</text>
<text transform="translate(1567.88,761.70) scale(0.9983,1.0000)" font-family="'Liberation Serif', 'Times New Roman', Times, serif" font-size="54.60" font-weight="bold" fill="#000">(b)</text>
<text transform="translate(1832.49,60.90) scale(0.9981,1.0000)" font-family="'Liberation Sans', Arial, Helvetica, sans-serif" font-size="21.50" stroke="#111" stroke-width="0.5" fill="#111">gamma-rays</text>
<text transform="translate(1832.34,90.60) scale(1.0051,1.0000)" font-family="'Liberation Sans', Arial, Helvetica, sans-serif" font-size="21.50" stroke="#111" stroke-width="0.5" fill="#111">neutrons</text>
<text transform="translate(1342.80,83.00) scale(0.9070,1.0000)" font-family="'Liberation Sans', Arial, Helvetica, sans-serif" font-size="40.29" stroke="#000" stroke-width="0.5" fill="#000">Δ</text>
<text transform="translate(1216.90,420.50) scale(1.0039,1.0000)" font-family="'Liberation Serif', 'Times New Roman', Times, serif" font-size="30.99" font-weight="bold" font-style="italic" stroke="#000" stroke-width="0.3" fill="#000">FWHM</text>
<text transform="translate(1318.50,426.60) scale(1.0833,1.0000)" font-family="'Liberation Serif', 'Times New Roman', Times, serif" font-size="21.00" font-style="italic" fill="#000">γ</text>
<text transform="translate(1423.50,559.70) scale(1.0000,1.0000)" font-family="'Liberation Serif', 'Times New Roman', Times, serif" font-size="31.15" font-weight="bold" font-style="italic" stroke="#000" stroke-width="0.3" fill="#000">FWHM</text>
<text transform="translate(1525.92,565.20) scale(1.1892,1.0000)" font-family="'Liberation Serif', 'Times New Roman', Times, serif" font-size="18.00" fill="#000">n</text>
<text transform="translate(1517.31,366.10) scale(0.9840,1.0000)" font-family="'Liberation Serif', 'Times New Roman', Times, serif" font-size="45.58" font-weight="bold" fill="#000">FOM</text>
<text transform="translate(1629.58,364.80) scale(1.2798,1.0000)" font-family="'Liberation Serif', 'Times New Roman', Times, serif" font-size="41.00" font-weight="bold" stroke="#000" stroke-width="0.5" fill="#000">=</text>
<rect x="1668.8" y="351.9" width="276.7" height="3.7" fill="#000"/>
<text transform="translate(1797.48,339.60) scale(0.8750,1.0000)" font-family="'Liberation Sans', Arial, Helvetica, sans-serif" font-size="31.42" stroke="#000" stroke-width="0.9" fill="#000">Δ</text>
<text transform="translate(1669.40,388.00) scale(1.0151,1.0000)" font-family="'Liberation Serif', 'Times New Roman', Times, serif" font-size="31.91" font-weight="bold" font-style="italic" stroke="#000" stroke-width="0.3" fill="#000">FWHM</text>
<text transform="translate(1777.13,393.30) scale(1.1954,1.0000)" font-family="'Liberation Serif', 'Times New Roman', Times, serif" font-size="29.00" font-weight="bold" font-style="italic" fill="#000">γ</text>
<text transform="translate(1795.06,392.60) scale(0.9217,1.0000)" font-family="'Liberation Serif', 'Times New Roman', Times, serif" font-size="42.00" stroke="#000" stroke-width="0.9" fill="#000">+</text>
<text transform="translate(1819.10,388.00) scale(1.0180,1.0000)" font-family="'Liberation Serif', 'Times New Roman', Times, serif" font-size="31.91" font-weight="bold" font-style="italic" stroke="#000" stroke-width="0.3" fill="#000">FWHM</text>
<text transform="translate(1925.96,394.80) scale(1.1228,1.0000)" font-family="'Liberation Serif', 'Times New Roman', Times, serif" font-size="28.50" font-weight="bold" font-style="italic" fill="#000">n</text>
<path d="M1207.30,614.90 L1215.30,614.90 L1223.30,614.90 L1231.30,614.90 L1239.30,614.90 L1247.30,614.90 L1247.80,614.90 L1248.30,614.90 L1248.80,614.90 L1249.30,614.90 L1249.80,614.90 L1250.30,614.90 L1250.80,614.90 L1251.30,614.90 L1251.80,614.90 L1252.30,614.90 L1252.80,614.90 L1253.30,614.90 L1253.80,614.90 L1254.30,614.90 L1254.80,614.90 L1255.30,614.90 L1255.80,614.90 L1256.30,614.90 L1256.80,614.89 L1257.30,614.89 L1257.80,614.89 L1258.30,614.89 L1258.80,614.89 L1259.30,614.89 L1259.80,614.88 L1260.30,614.88 L1260.80,614.88 L1261.30,614.87 L1261.80,614.87 L1262.30,614.86 L1262.80,614.85 L1263.30,614.85 L1263.80,614.84 L1264.30,614.82 L1264.80,614.81 L1265.30,614.79 L1265.80,614.77 L1266.30,614.75 L1266.80,614.73 L1267.30,614.69 L1267.80,614.66 L1268.30,614.62 L1268.80,614.57 L1269.30,614.52 L1269.80,614.46 L1270.30,614.38 L1270.80,614.30 L1271.30,614.21 L1271.80,614.10 L1272.30,613.97 L1272.80,613.83 L1273.30,613.67 L1273.80,613.49 L1274.30,613.28 L1274.80,613.04 L1275.30,612.78 L1275.80,612.48 L1276.30,612.14 L1276.80,611.76 L1277.30,611.33 L1277.80,610.85 L1278.30,610.31 L1278.80,609.71 L1279.30,609.04 L1279.80,608.29 L1280.30,607.46 L1280.80,606.54 L1281.30,605.52 L1281.80,604.40 L1282.30,603.15 L1282.80,601.78 L1283.30,600.28 L1283.80,598.62 L1284.30,596.81 L1284.80,594.83 L1285.30,592.66 L1285.80,590.31 L1286.30,587.74 L1286.80,584.96 L1287.30,581.94 L1287.80,578.67 L1288.30,575.15 L1288.80,571.35 L1289.30,567.26 L1289.80,562.88 L1290.30,558.18 L1290.80,553.15 L1291.30,547.78 L1291.80,542.06 L1292.30,535.99 L1292.80,529.54 L1293.30,522.70 L1293.80,515.48 L1294.30,507.87 L1294.80,499.85 L1295.30,491.43 L1295.80,482.61 L1296.30,473.37 L1296.80,463.74 L1297.30,453.70 L1297.80,443.27 L1298.30,432.46 L1298.80,421.27 L1299.30,409.72 L1299.80,397.82 L1300.30,385.60 L1300.80,373.08 L1301.30,360.28 L1301.80,347.23 L1302.30,333.95 L1302.80,320.48 L1303.30,306.86 L1303.80,293.11 L1304.30,279.29 L1304.80,265.43 L1305.30,251.57 L1305.80,237.76 L1306.30,224.05 L1306.80,210.48 L1307.30,197.10 L1307.80,183.97 L1308.30,171.13 L1308.80,158.63 L1309.30,146.52 L1309.80,134.85 L1310.30,123.68 L1310.80,113.04 L1311.30,102.98 L1311.80,93.55 L1312.30,84.79 L1312.80,76.73 L1313.30,69.42 L1313.80,62.89 L1314.30,57.16 L1314.80,52.27 L1315.30,48.24 L1315.80,45.08 L1316.30,42.82 L1316.80,41.46 L1317.30,41.00 L1317.80,41.46 L1318.30,42.82 L1318.80,45.08 L1319.30,48.24 L1319.80,52.27 L1320.30,57.16 L1320.80,62.89 L1321.30,69.42 L1321.80,76.73 L1322.30,84.79 L1322.80,93.55 L1323.30,102.98 L1323.80,113.04 L1324.30,123.68 L1324.80,134.85 L1325.30,146.52 L1325.80,158.63 L1326.30,171.13 L1326.80,183.97 L1327.30,197.10 L1327.80,210.48 L1328.30,224.05 L1328.80,237.76 L1329.30,251.57 L1329.80,265.43 L1330.30,279.29 L1330.80,293.11 L1331.30,306.86 L1331.80,320.48 L1332.30,333.95 L1332.80,347.23 L1333.30,360.28 L1333.80,373.08 L1334.30,385.60 L1334.80,397.82 L1335.30,409.72 L1335.80,421.27 L1336.30,432.46 L1336.80,443.27 L1337.30,453.70 L1337.80,463.74 L1338.30,473.37 L1338.80,482.61 L1339.30,491.43 L1339.80,499.85 L1340.30,507.87 L1340.80,515.48 L1341.30,522.70 L1341.80,529.54 L1342.30,535.99 L1342.80,542.06 L1343.30,547.78 L1343.80,553.15 L1344.30,558.18 L1344.80,562.88 L1345.30,567.26 L1345.80,571.35 L1346.30,575.15 L1346.80,578.67 L1347.30,581.94 L1347.80,584.96 L1348.30,587.74 L1348.80,590.31 L1349.30,592.66 L1349.80,594.83 L1350.30,596.81 L1350.80,598.62 L1351.30,600.28 L1351.80,601.78 L1352.30,603.15 L1352.80,604.40 L1353.30,605.52 L1353.80,606.54 L1354.30,607.46 L1354.80,608.29 L1355.30,609.04 L1355.80,609.71 L1356.30,610.31 L1356.80,610.85 L1357.30,611.33 L1357.80,611.76 L1358.30,612.14 L1358.80,612.48 L1359.30,612.78 L1359.80,613.04 L1360.30,613.28 L1360.80,613.49 L1361.30,613.67 L1361.80,613.83 L1362.30,613.97 L1362.80,614.10 L1363.30,614.21 L1363.80,614.30 L1364.30,614.38 L1364.80,614.46 L1365.30,614.52 L1365.80,614.57 L1366.30,614.62 L1366.80,614.66 L1367.30,614.69 L1367.80,614.73 L1368.30,614.75 L1368.80,614.77 L1369.30,614.79 L1369.80,614.81 L1370.30,614.82 L1370.80,614.84 L1371.30,614.85 L1371.80,614.85 L1372.30,614.86 L1372.80,614.87 L1373.30,614.87 L1373.80,614.88 L1374.30,614.88 L1374.80,614.88 L1375.30,614.89 L1375.80,614.89 L1376.30,614.89 L1376.80,614.89 L1377.30,614.89 L1377.80,614.89 L1378.30,614.90 L1378.80,614.90 L1379.30,614.90 L1379.80,614.90 L1380.30,614.90 L1380.80,614.90 L1381.30,614.90 L1381.80,614.90 L1382.30,614.90 L1382.80,614.90 L1383.30,614.90 L1383.80,614.90 L1384.30,614.90 L1384.80,614.90 L1385.30,614.90 L1385.80,614.90 L1386.30,614.90 L1386.80,614.90 L1387.30,614.90 L1387.80,614.90 L1388.30,614.90 L1388.80,614.90 L1389.30,614.90 L1389.80,614.90 L1390.30,614.90 L1390.80,614.90 L1391.30,614.90 L1391.80,614.90 L1392.30,614.90 L1392.80,614.90 L1400.80,614.90 L1408.80,614.90 L1416.80,614.90 L1424.80,614.90 L1432.80,614.90 L1440.80,614.90 L1448.80,614.90 L1456.80,614.90 L1464.80,614.90 L1472.80,614.90 L1480.80,614.90 L1488.80,614.90 L1496.80,614.90 L1504.80,614.90 L1512.80,614.90 L1520.80,614.90 L1528.80,614.90 L1536.80,614.90 L1544.80,614.90 L1552.80,614.90 L1560.80,614.90 L1568.80,614.90 L1576.80,614.90 L1584.80,614.90 L1592.80,614.90 L1600.80,614.90 L1608.80,614.90 L1616.80,614.90 L1624.80,614.90 L1632.80,614.90 L1640.80,614.90 L1648.80,614.90 L1656.80,614.90 L1664.80,614.90 L1672.80,614.90 L1680.80,614.90 L1688.80,614.90 L1696.80,614.90 L1704.80,614.90 L1712.80,614.90 L1720.80,614.90 L1728.80,614.90 L1736.80,614.90 L1744.80,614.90 L1752.80,614.90 L1760.80,614.90 L1768.80,614.90 L1776.80,614.90 L1784.80,614.90 L1792.80,614.90 L1800.80,614.90 L1808.80,614.90 L1816.80,614.90 L1824.80,614.90 L1832.80,614.90 L1840.80,614.90 L1848.80,614.90 L1856.80,614.90 L1864.80,614.90 L1872.80,614.90 L1880.80,614.90 L1888.80,614.90 L1896.80,614.90 L1904.80,614.90 L1912.80,614.90 L1920.80,614.90 L1928.80,614.90 L1936.80,614.90 L1944.80,614.90 L1952.80,614.90 L1960.80,614.90 L1968.80,614.90 L1976.80,614.90 L1979.70,614.90" fill="none" stroke="#ff3a3a" stroke-opacity="0.88" stroke-width="1.5" stroke-linejoin="round"/>
<path d="M1207.30,614.90 L1215.30,614.90 L1223.30,614.90 L1231.30,614.90 L1239.30,614.90 L1247.30,614.90 L1255.30,614.90 L1263.30,614.90 L1271.30,614.90 L1279.30,614.90 L1287.30,614.90 L1295.30,614.90 L1303.30,614.90 L1311.30,614.90 L1319.30,614.90 L1319.80,614.90 L1320.30,614.90 L1320.80,614.90 L1321.30,614.90 L1321.80,614.90 L1322.30,614.90 L1322.80,614.90 L1323.30,614.90 L1323.80,614.90 L1324.30,614.90 L1324.80,614.90 L1325.30,614.90 L1325.80,614.90 L1326.30,614.90 L1326.80,614.90 L1327.30,614.90 L1327.80,614.90 L1328.30,614.90 L1328.80,614.90 L1329.30,614.90 L1329.80,614.90 L1330.30,614.90 L1330.80,614.90 L1331.30,614.90 L1331.80,614.89 L1332.30,614.89 L1332.80,614.89 L1333.30,614.89 L1333.80,614.89 L1334.30,614.89 L1334.80,614.88 L1335.30,614.88 L1335.80,614.88 L1336.30,614.88 L1336.80,614.87 L1337.30,614.87 L1337.80,614.86 L1338.30,614.85 L1338.80,614.85 L1339.30,614.84 L1339.80,614.83 L1340.30,614.82 L1340.80,614.80 L1341.30,614.79 L1341.80,614.77 L1342.30,614.75 L1342.80,614.73 L1343.30,614.70 L1343.80,614.67 L1344.30,614.64 L1344.80,614.60 L1345.30,614.56 L1345.80,614.51 L1346.30,614.45 L1346.80,614.39 L1347.30,614.32 L1347.80,614.24 L1348.30,614.16 L1348.80,614.06 L1349.30,613.95 L1349.80,613.83 L1350.30,613.69 L1350.80,613.54 L1351.30,613.37 L1351.80,613.19 L1352.30,612.98 L1352.80,612.75 L1353.30,612.50 L1353.80,612.23 L1354.30,611.92 L1354.80,611.59 L1355.30,611.22 L1355.80,610.82 L1356.30,610.38 L1356.80,609.91 L1357.30,609.39 L1357.80,608.82 L1358.30,608.21 L1358.80,607.54 L1359.30,606.82 L1359.80,606.04 L1360.30,605.20 L1360.80,604.30 L1361.30,603.33 L1361.80,602.28 L1362.30,601.17 L1362.80,599.97 L1363.30,598.70 L1363.80,597.34 L1364.30,595.90 L1364.80,594.36 L1365.30,592.74 L1365.80,591.02 L1366.30,589.20 L1366.80,587.29 L1367.30,585.27 L1367.80,583.15 L1368.30,580.93 L1368.80,578.61 L1369.30,576.18 L1369.80,573.66 L1370.30,571.02 L1370.80,568.29 L1371.30,565.46 L1371.80,562.53 L1372.30,559.51 L1372.80,556.40 L1373.30,553.20 L1373.80,549.92 L1374.30,546.57 L1374.80,543.14 L1375.30,539.65 L1375.80,536.10 L1376.30,532.51 L1376.80,528.87 L1377.30,525.20 L1377.80,521.51 L1378.30,517.81 L1378.80,514.10 L1379.30,510.41 L1379.80,506.73 L1380.30,503.08 L1380.80,499.48 L1381.30,495.93 L1381.80,492.45 L1382.30,489.05 L1382.80,485.74 L1383.30,482.53 L1383.80,479.44 L1384.30,476.47 L1384.80,473.64 L1385.30,470.96 L1385.80,468.44 L1386.30,466.09 L1386.80,463.92 L1387.30,461.94 L1387.80,460.15 L1388.30,458.56 L1388.80,457.19 L1389.30,456.03 L1389.80,455.09 L1390.30,454.38 L1390.80,453.90 L1391.30,453.64 L1391.80,453.62 L1392.30,453.83 L1392.80,454.27 L1393.30,454.93 L1393.80,455.82 L1394.30,456.94 L1394.80,458.27 L1395.30,459.81 L1395.80,461.56 L1396.30,463.51 L1396.80,465.64 L1397.30,467.96 L1397.80,470.45 L1398.30,473.10 L1398.80,475.90 L1399.30,478.84 L1399.80,481.90 L1400.30,485.09 L1400.80,488.38 L1401.30,491.77 L1401.80,495.23 L1402.30,498.77 L1402.80,502.36 L1403.30,506.00 L1403.80,509.67 L1404.30,513.36 L1404.80,517.07 L1405.30,520.77 L1405.80,524.46 L1406.30,528.14 L1406.80,531.78 L1407.30,535.39 L1407.80,538.94 L1408.30,542.45 L1408.80,545.89 L1409.30,549.26 L1409.80,552.55 L1410.30,555.77 L1410.80,558.90 L1411.30,561.94 L1411.80,564.88 L1412.30,567.73 L1412.80,570.49 L1413.30,573.14 L1413.80,575.69 L1414.30,578.13 L1414.80,580.48 L1415.30,582.72 L1415.80,584.85 L1416.30,586.89 L1416.80,588.83 L1417.30,590.66 L1417.80,592.40 L1418.30,594.05 L1418.80,595.60 L1419.30,597.06 L1419.80,598.43 L1420.30,599.73 L1420.80,600.94 L1421.30,602.07 L1421.80,603.12 L1422.30,604.11 L1422.80,605.03 L1423.30,605.88 L1423.80,606.67 L1424.30,607.40 L1424.80,608.08 L1425.30,608.70 L1425.80,609.28 L1426.30,609.81 L1426.80,610.29 L1427.30,610.74 L1427.80,611.15 L1428.30,611.52 L1428.80,611.86 L1429.30,612.17 L1429.80,612.45 L1430.30,612.71 L1430.80,612.94 L1431.30,613.15 L1431.80,613.34 L1432.30,613.51 L1432.80,613.66 L1433.30,613.80 L1433.80,613.93 L1434.30,614.04 L1434.80,614.14 L1435.30,614.23 L1435.80,614.31 L1436.30,614.38 L1436.80,614.44 L1437.30,614.50 L1437.80,614.55 L1438.30,614.59 L1438.80,614.63 L1439.30,614.66 L1439.80,614.69 L1440.30,614.72 L1440.80,614.74 L1441.30,614.77 L1441.80,614.78 L1442.30,614.80 L1442.80,614.81 L1443.30,614.82 L1443.80,614.84 L1444.30,614.84 L1444.80,614.85 L1445.30,614.86 L1445.80,614.86 L1446.30,614.87 L1446.80,614.87 L1447.30,614.88 L1447.80,614.88 L1448.30,614.88 L1448.80,614.89 L1449.30,614.89 L1449.80,614.89 L1450.30,614.89 L1450.80,614.89 L1451.30,614.89 L1451.80,614.90 L1452.30,614.90 L1452.80,614.90 L1453.30,614.90 L1453.80,614.90 L1454.30,614.90 L1454.80,614.90 L1455.30,614.90 L1455.80,614.90 L1456.30,614.90 L1456.80,614.90 L1457.30,614.90 L1457.80,614.90 L1458.30,614.90 L1458.80,614.90 L1459.30,614.90 L1459.80,614.90 L1460.30,614.90 L1460.80,614.90 L1461.30,614.90 L1461.80,614.90 L1462.30,614.90 L1462.80,614.90 L1463.30,614.90 L1463.80,614.90 L1464.30,614.90 L1464.80,614.90 L1465.30,614.90 L1465.80,614.90 L1466.30,614.90 L1466.80,614.90 L1467.30,614.90 L1467.80,614.90 L1468.30,614.90 L1468.80,614.90 L1469.30,614.90 L1469.80,614.90 L1470.30,614.90 L1470.80,614.90 L1478.80,614.90 L1486.80,614.90 L1494.80,614.90 L1502.80,614.90 L1510.80,614.90 L1518.80,614.90 L1526.80,614.90 L1534.80,614.90 L1542.80,614.90 L1550.80,614.90 L1558.80,614.90 L1566.80,614.90 L1574.80,614.90 L1582.80,614.90 L1590.80,614.90 L1598.80,614.90 L1606.80,614.90 L1614.80,614.90 L1622.80,614.90 L1630.80,614.90 L1638.80,614.90 L1646.80,614.90 L1654.80,614.90 L1662.80,614.90 L1670.80,614.90 L1678.80,614.90 L1686.80,614.90 L1694.80,614.90 L1702.80,614.90 L1710.80,614.90 L1718.80,614.90 L1726.80,614.90 L1734.80,614.90 L1742.80,614.90 L1750.80,614.90 L1758.80,614.90 L1766.80,614.90 L1774.80,614.90 L1782.80,614.90 L1790.80,614.90 L1798.80,614.90 L1806.80,614.90 L1814.80,614.90 L1822.80,614.90 L1830.80,614.90 L1838.80,614.90 L1846.80,614.90 L1854.80,614.90 L1862.80,614.90 L1870.80,614.90 L1878.80,614.90 L1886.80,614.90 L1894.80,614.90 L1902.80,614.90 L1910.80,614.90 L1918.80,614.90 L1926.80,614.90 L1934.80,614.90 L1942.80,614.90 L1950.80,614.90 L1958.80,614.90 L1966.80,614.90 L1974.80,614.90 L1979.70,614.90" fill="none" stroke="#4444ff" stroke-opacity="0.85" stroke-width="1.6" stroke-linejoin="round"/>
</g>
</svg>
</body>
</html>
